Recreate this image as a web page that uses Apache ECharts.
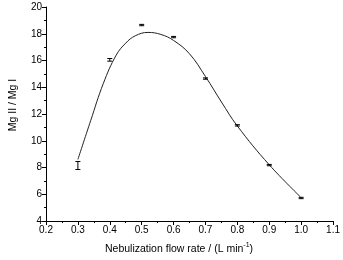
<!DOCTYPE html>
<html>
<head>
<meta charset="utf-8">
<script src="https://cdn.jsdelivr.net/npm/echarts@6/dist/echarts.min.js"></script>
<style>
  html, body { margin: 0; padding: 0; background: #fff; }
  #chart { width: 343px; height: 260px; }
</style>
</head>
<body>
<div id="chart"></div>
<script>
// measured points (flow rate, Mg II / Mg I, error)
const flowRate = [0.3, 0.4, 0.5, 0.6, 0.7, 0.8, 0.9, 1.0];
const ratio = [8.15, 16.05, 18.65, 17.75, 14.65, 11.15, 8.18, 5.72];
const ratioErr = [0.3, 0.1, 0.05, 0.05, 0.05, 0.05, 0.05, 0.05];

// fitted curve
const fitX = [0.30, 0.34, 0.38, 0.42, 0.45, 0.48, 0.52, 0.56, 0.60, 0.65, 0.70, 0.75, 0.80, 0.90, 1.00];
const fitY = [8.6, 11.5, 14.3, 16.4, 17.3, 17.85, 18.1, 17.95, 17.5, 16.5, 14.8, 12.9, 11.1, 8.2, 5.75];

const xTicks = [0.2, 0.3, 0.4, 0.5, 0.6, 0.7, 0.8, 0.9, 1.0, 1.1];

const chart = echarts.init(document.getElementById('chart'));

const font = 'Liberation Sans, Arial, sans-serif';

const axisCommon = {
    axisLine: { show: true, onZero: false, lineStyle: { color: '#000', width: 1 } },
    axisTick: { show: true, inside: false, length: 4, lineStyle: { color: '#000' } },
    minorTick: { show: true, splitNumber: 2, length: 2, lineStyle: { color: '#000' } },
    splitLine: { show: false },
    axisLabel: { color: '#000', fontSize: 10, fontFamily: font, margin: 4 }
};

const option = {
    backgroundColor: '#fff',
    animation: false,
    grid: { left: 37, right: 7, top: 7, bottom: 32, containLabel: false },
    xAxis: Object.assign({}, axisCommon, {
        type: 'value',
        min: xTicks[0],
        max: xTicks[xTicks.length - 1],
        interval: 0.1,
        axisLabel: Object.assign({}, axisCommon.axisLabel, {
            formatter: v => v.toFixed(1)
        }),
        name: '{a|Nebulization flow rate / (L min}{s|-1}{a|)}',
        nameLocation: 'middle',
        nameGap: 21,
        nameTextStyle: {
            padding: [0, 21, 0, 0],
            rich: {
                a: { fontSize: 10.5, fontFamily: font, color: '#000', lineHeight: 13, verticalAlign: 'bottom' },
                s: { fontSize: 7, fontFamily: font, color: '#000', lineHeight: 13, verticalAlign: 'top' }
            }
        }
    }),
    yAxis: Object.assign({}, axisCommon, {
        type: 'value',
        min: 4,
        max: 20,
        interval: 2,
        name: 'Mg II / Mg I',
        nameLocation: 'middle',
        nameGap: 27,
        nameTextStyle: { fontSize: 10.5, fontFamily: font, color: '#000', padding: [0, 0, 0, 18] }
    }),
    series: [
        {
            name: 'fit',
            type: 'line',
            data: fitX.map((x, i) => [x, fitY[i]]),
            smooth: 0.4,
            showSymbol: false,
            lineStyle: { color: '#222', width: 1 },
            z: 2
        },
        {
            name: 'data',
            type: 'custom',
            data: flowRate.map((x, i) => [x, ratio[i], ratioErr[i]]),
            renderItem: (params, api) => {
                const x = api.value(0), y = api.value(1), e = api.value(2);
                const hi = api.coord([x, y + e]);
                const lo = api.coord([x, y - e]);
                const w = 2.5;
                const style = { stroke: '#000', lineWidth: 1 };
                return {
                    type: 'group',
                    children: [
                        { type: 'line', shape: { x1: hi[0], y1: hi[1], x2: lo[0], y2: lo[1] }, style },
                        { type: 'line', shape: { x1: hi[0] - w, y1: hi[1], x2: hi[0] + w, y2: hi[1] }, style },
                        { type: 'line', shape: { x1: lo[0] - w, y1: lo[1], x2: lo[0] + w, y2: lo[1] }, style }
                    ]
                };
            },
            z: 3
        }
    ]
};

chart.setOption(option);
</script>
</body>
</html>
